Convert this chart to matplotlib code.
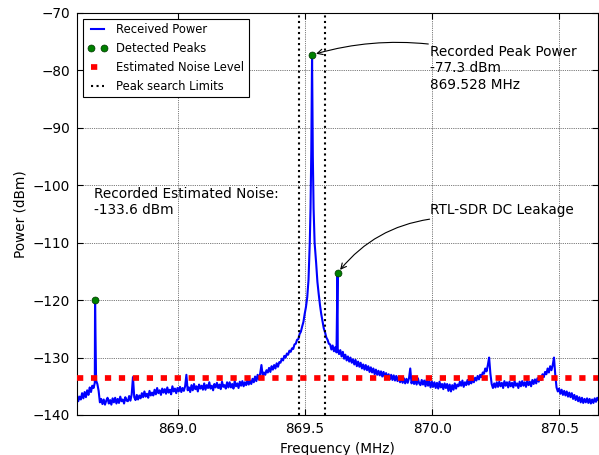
#!/usr/bin/env python3
"""
RTL-SDR spectrum scan around 869.6 MHz with detected peaks,
estimated noise level and the peak search window.
"""

import matplotlib
matplotlib.use('Agg')
import matplotlib.pyplot as plt
import numpy as np

# FFT bin grid of the scan (centre 869.628 MHz, 2.048 MHz span)
bin_start = 868.604
bin_step = 0.005

# Received power per bin (dBm), 10 bins (0.05 MHz) per row
noise_power = [
    -136.5, -137.6, -136.8, -137.3, -136.2, -137.1, -136.0, -136.9, -135.7, -136.5,
    -135.2, -136.0, -134.9, -135.3, -134.4, -134.0, -134.6, -135.8, -137.8, -137.2,
    -138.1, -137.3, -138.2, -137.5, -137.0, -138.0, -137.4, -138.2, -137.1, -137.8,
    -137.0, -138.0, -137.2, -137.9, -136.8, -137.6, -137.3, -138.0, -136.9, -137.5,
    -137.6, -136.7, -137.5, -136.4, -133.4, -136.9, -137.4, -136.5, -137.3, -136.6,
    -137.1, -136.2, -136.9, -135.9, -136.8, -136.3, -137.0, -135.8, -136.6, -136.1,
    -136.6, -135.6, -136.4, -135.3, -136.2, -135.7, -136.5, -135.4, -136.1, -135.5,
    -136.3, -135.2, -136.1, -135.6, -136.4, -135.0, -135.9, -135.4, -136.2, -135.3,
    -135.9, -135.1, -136.0, -135.3, -135.8, -135.0, -133.0, -135.7, -135.2, -136.0,
    -134.8, -135.7, -134.6, -135.5, -135.0, -135.9, -134.7, -135.4, -134.9, -135.6,
    -134.5, -135.6, -134.8, -135.3, -134.3, -135.4, -134.9, -135.7, -134.6, -135.2,
    -134.4, -135.3, -134.7, -135.5, -134.2, -135.1, -134.8, -135.4, -134.3, -135.2,
    -134.3, -135.2, -134.6, -135.4, -134.1, -135.0, -134.5, -135.3, -134.2, -134.9,
    -134.1, -135.0, -134.3, -134.8, -133.9, -134.7, -134.0, -134.6, -133.7, -134.3,
    -133.3, -134.1, -133.0, -133.8, -132.8, -131.3, -133.2, -132.6, -133.0, -132.2,
    -132.6, -131.8, -132.5, -131.5, -132.1, -131.3, -131.9, -131.0, -131.6, -130.8,
    -130.9, -130.2, -130.5, -129.7, -130.0, -129.3, -129.5, -128.8, -129.0, -128.4,
    -128.5, -127.7, -127.6, -126.9, -126.8, -125.9, -125.5, -124.6, -123.8, -122.4,
    -121.2, -119.5, -116.5, -110.0, -100.0, -100.0, -100.0, -100.0, -113.5, -116.8,
    -118.9, -120.8, -122.4, -123.6, -124.9, -125.6, -126.5, -126.9, -127.6, -127.7,
    -128.6, -127.9, -128.9, -128.2, -129.1, -128.5, -129.4, -128.7, -129.8, -129.0,
    -130.2, -129.5, -130.5, -129.8, -130.7, -130.0, -130.9, -130.3, -131.2, -130.4,
    -131.5, -130.7, -131.6, -130.9, -131.9, -131.2, -132.1, -131.3, -132.2, -131.5,
    -132.5, -131.7, -132.6, -131.9, -132.9, -132.1, -133.0, -132.3, -133.1, -132.4,
    -133.3, -132.5, -133.4, -132.7, -133.7, -132.9, -133.8, -133.0, -133.9, -133.1,
    -134.0, -133.2, -134.1, -133.3, -134.3, -133.5, -134.4, -133.6, -134.5, -133.7,
    -134.4, -133.6, -131.9, -134.5, -133.7, -134.6, -133.8, -134.7, -133.6, -134.5,
    -134.8, -133.9, -134.7, -134.0, -135.0, -133.8, -134.9, -134.1, -135.2, -134.2,
    -135.1, -134.3, -135.3, -134.4, -135.4, -134.2, -135.2, -134.6, -135.5, -134.5,
    -135.3, -134.6, -135.8, -134.7, -135.9, -134.8, -135.6, -134.5, -135.4, -134.7,
    -135.0, -134.2, -134.9, -134.0, -135.1, -134.3, -134.8, -133.9, -134.7, -134.0,
    -134.5, -133.6, -134.3, -133.5, -134.0, -133.2, -133.8, -133.0, -133.4, -132.6,
    -132.8, -131.9, -132.4, -131.3, -130.0, -132.8, -134.6, -135.3, -134.5, -135.2,
    -134.3, -135.1, -134.2, -135.0, -134.4, -135.3, -134.1, -134.9, -134.3, -135.2,
    -134.2, -135.0, -134.4, -135.2, -134.1, -134.9, -134.5, -135.3, -134.2, -135.0,
    -134.1, -134.9, -134.3, -135.1, -134.0, -134.8, -134.2, -135.0, -133.9, -134.6,
    -133.8, -134.5, -133.6, -134.2, -133.3, -133.9, -132.9, -133.4, -132.5, -132.9,
    -131.9, -132.6, -131.5, -132.2, -131.3, -130.0, -133.0, -135.2, -135.9, -135.4,
    -136.3, -135.6, -136.5, -135.8, -136.6, -135.9, -136.8, -136.1, -136.9, -136.2,
    -137.2, -136.5, -137.4, -136.7, -137.6, -136.9, -137.8, -137.0, -137.9, -137.2,
    -137.8, -137.1, -137.9, -137.2, -138.0, -137.3, -137.9, -137.1, -137.7, -137.0,
    -137.4,
]

# Fine samples of the narrow carrier peak
peak_freq = [869.519, 869.522, 869.525, 869.528, 869.531, 869.534, 869.538]
peak_power = [-110.0, -104.0, -94.0, -77.3, -95.0, -104.0, -110.0]

# Single-bin spurs (image spur and DC leakage)
spur_freq = [868.675, 869.628]
spur_power = [-120.0, -115.3]

# Detected peaks
detected_freq = [868.675, 869.528, 869.628]
detected_power = [-120.0, -77.3, -115.3]

noise_level = -133.6
search_limits = [869.478, 869.578]

# build the trace: grid bins (without the ones replaced by fine peak samples) + peak + spurs
grid_freq = bin_start + bin_step * np.arange(len(noise_power))
keep = (grid_freq < 869.517) | (grid_freq > 869.541)
freq = np.concatenate([grid_freq[keep], peak_freq, spur_freq])
power = np.concatenate([np.array(noise_power)[keep], peak_power, spur_power])
order = np.argsort(freq)
freq = freq[order]
power = power[order]

plt.rcParams['font.family'] = 'DejaVu Sans'
plt.rcParams['font.size'] = 9.8

fig = plt.figure(figsize=(5.99, 4.55), dpi=100)
ax = fig.add_axes([77 / 599, 40 / 455, 521 / 599, 402 / 455])

ax.plot(freq, power, color='#0000ff', linewidth=1.5, label='Received Power', zorder=2)
ax.plot(detected_freq, detected_power, 'o', color='#008000', markersize=5,
        markeredgecolor='#003300', markeredgewidth=0.5, label='Detected Peaks', zorder=5)
ax.axhline(noise_level, color='#ff0000', linewidth=4.1, linestyle=(0, (1.1, 1.35)),
           label='Estimated Noise Level', zorder=4)
for i, lim in enumerate(search_limits):
    ax.axvline(lim, color='k', linewidth=1.5, linestyle=':', zorder=3,
               label='Peak search Limits' if i == 0 else None)

ax.set_xlim(868.604, 870.652)
ax.set_ylim(-140, -70)
ax.set_xticks([869.0, 869.5, 870.0, 870.5])
ax.set_xticklabels(['869.0', '869.5', '870.0', '870.5'])
ax.set_yticks(np.arange(-140, -69, 10))
ax.tick_params(direction='in', length=4, top=True, right=True, pad=5)
ax.grid(True, color='k', linestyle=':', linewidth=0.5)
ax.set_xlabel('Frequency (MHz)')
ax.set_ylabel('Power (dBm)')

ax.annotate('', xy=(869.528, -77.3), xytext=(869.985, -75.4),
            arrowprops=dict(arrowstyle='->', color='k', lw=0.8, shrinkA=0, shrinkB=3,
                            connectionstyle='arc3,rad=0.1'))
ax.text(869.993, -75.6, 'Recorded Peak Power\n-77.3 dBm\n869.528 MHz', va='top', ha='left')

ax.annotate('', xy=(869.628, -115.3), xytext=(869.990, -105.9),
            arrowprops=dict(arrowstyle='->', color='k', lw=0.8, shrinkA=0, shrinkB=3,
                            connectionstyle='arc3,rad=0.2'))
ax.text(869.993, -104.3, 'RTL-SDR DC Leakage', va='center', ha='left')

ax.text(868.671, -102.9, 'Recorded Estimated Noise:\n-133.6 dBm', va='center', ha='left')

leg = ax.legend(loc='upper left', fontsize=8.3, numpoints=2, fancybox=False,
                framealpha=1.0, edgecolor='k', handlelength=1.7)
leg.get_frame().set_linewidth(0.8)

fig.savefig('out.png', dpi=100, facecolor='white')
